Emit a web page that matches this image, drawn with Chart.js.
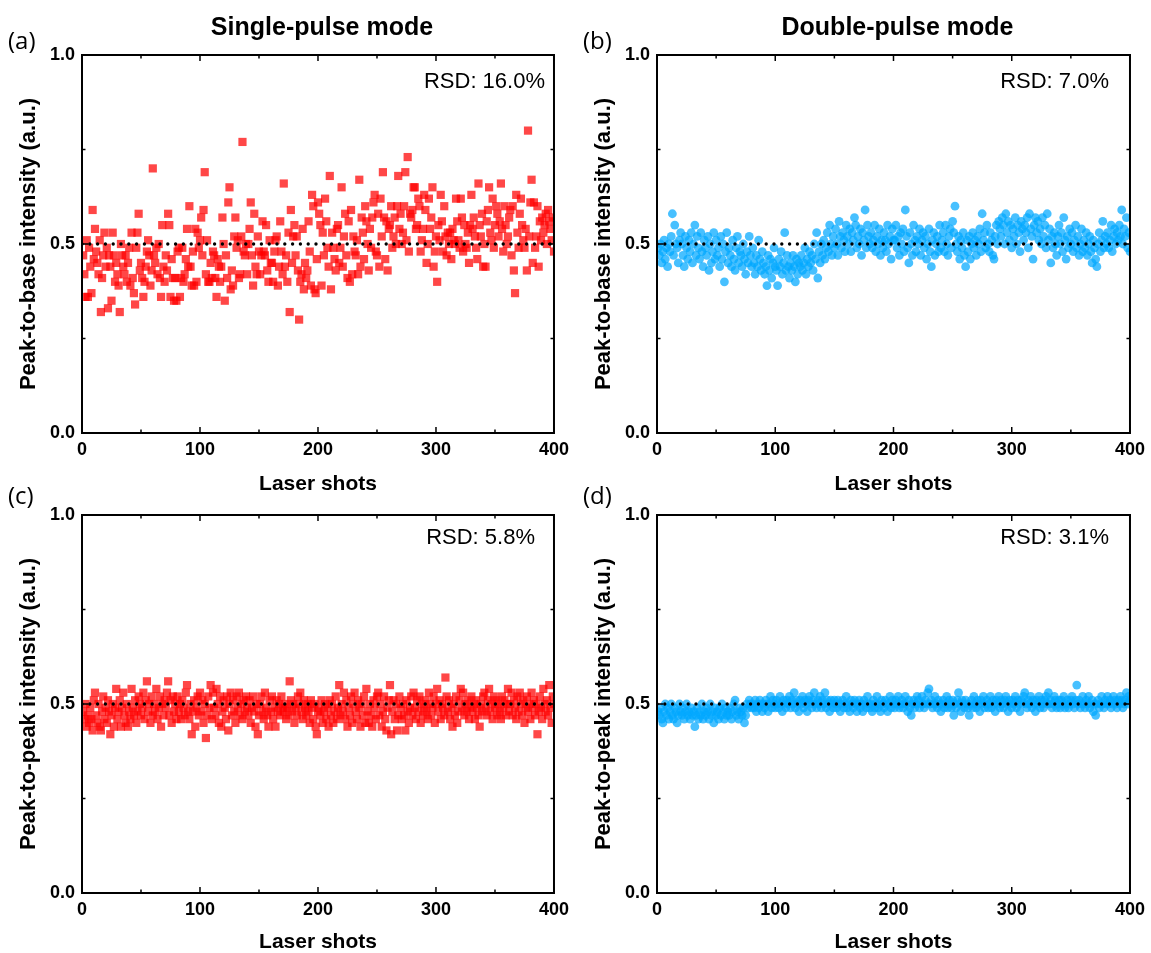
<!DOCTYPE html>
<html>
<head>
<meta charset="utf-8">
<script src="https://cdn.jsdelivr.net/npm/chart.js@4.4.1/dist/chart.umd.min.js"></script>
<style>
  html, body { margin: 0; padding: 0; background: #fff; overflow: hidden; }
  canvas { position: absolute; }
</style>
</head>
<body>
<canvas id="chartA"></canvas>
<canvas id="chartB"></canvas>
<canvas id="chartC"></canvas>
<canvas id="chartD"></canvas>
<script>
// peak-to-base, single pulse (a)
const singleBase = [
  0.47,0.42,0.36,0.51,0.36,0.49,0.44,0.37,0.59,0.46, 0.54,0.48,0.45,0.42,0.51,0.32,0.41,0.47,0.53,0.44,
  0.49,0.33,0.47,0.44,0.35,0.53,0.47,0.40,0.45,0.42, 0.39,0.32,0.50,0.47,0.44,0.42,0.47,0.40,0.45,0.49,
  0.39,0.53,0.41,0.37,0.34,0.49,0.53,0.58,0.43,0.45, 0.41,0.36,0.40,0.44,0.48,0.51,0.47,0.39,0.43,0.70,
  0.47,0.45,0.49,0.42,0.50,0.41,0.36,0.55,0.44,0.40, 0.47,0.43,0.58,0.55,0.36,0.46,0.41,0.35,0.41,0.35,
  0.48,0.49,0.36,0.41,0.49,0.40,0.42,0.46,0.54,0.44, 0.60,0.44,0.39,0.48,0.39,0.54,0.40,0.53,0.49,0.51,
  0.57,0.47,0.59,0.69,0.42,0.51,0.40,0.40,0.45,0.41, 0.48,0.47,0.41,0.36,0.46,0.44,0.40,0.44,0.57,0.50,
  0.35,0.47,0.41,0.61,0.65,0.38,0.43,0.39,0.52,0.57, 0.49,0.51,0.41,0.42,0.52,0.77,0.48,0.47,0.50,0.42,
  0.50,0.54,0.61,0.47,0.39,0.58,0.44,0.42,0.52,0.48, 0.42,0.47,0.56,0.48,0.47,0.55,0.43,0.40,0.51,0.45,
  0.45,0.40,0.48,0.51,0.52,0.39,0.44,0.56,0.48,0.42, 0.66,0.44,0.47,0.40,0.53,0.32,0.59,0.45,0.52,0.55,
  0.47,0.52,0.43,0.30,0.40,0.42,0.54,0.38,0.45,0.41, 0.43,0.56,0.48,0.39,0.63,0.60,0.38,0.37,0.46,0.61,
  0.58,0.55,0.39,0.53,0.47,0.62,0.56,0.49,0.44,0.68, 0.38,0.53,0.49,0.46,0.43,0.54,0.55,0.45,0.49,0.65,
  0.44,0.52,0.58,0.47,0.41,0.56,0.40,0.59,0.42,0.52, 0.48,0.47,0.51,0.42,0.67,0.44,0.57,0.53,0.46,0.60,
  0.56,0.50,0.43,0.54,0.49,0.57,0.61,0.63,0.48,0.47, 0.58,0.44,0.62,0.52,0.69,0.57,0.46,0.56,0.43,0.54,
  0.55,0.60,0.49,0.52,0.57,0.50,0.60,0.68,0.54,0.58, 0.50,0.53,0.60,0.69,0.51,0.73,0.48,0.58,0.57,0.59,
  0.65,0.65,0.54,0.55,0.62,0.60,0.48,0.51,0.54,0.63, 0.59,0.45,0.50,0.62,0.54,0.57,0.65,0.44,0.48,0.52,
  0.40,0.55,0.51,0.63,0.56,0.48,0.60,0.52,0.47,0.53, 0.50,0.53,0.46,0.54,0.51,0.50,0.62,0.56,0.51,0.49,
  0.62,0.57,0.48,0.55,0.50,0.49,0.53,0.45,0.55,0.63, 0.54,0.57,0.52,0.49,0.46,0.66,0.55,0.52,0.58,0.44,
  0.50,0.44,0.56,0.59,0.65,0.53,0.51,0.62,0.49,0.55, 0.60,0.58,0.52,0.56,0.66,0.54,0.48,0.60,0.55,0.50,
  0.52,0.57,0.59,0.47,0.60,0.43,0.37,0.63,0.53,0.49, 0.58,0.62,0.55,0.51,0.49,0.54,0.43,0.80,0.52,0.61,
  0.67,0.45,0.61,0.49,0.52,0.60,0.44,0.56,0.51,0.57, 0.53,0.55,0.58,0.50,0.59,0.56,0.54,0.51,0.57,0.48
];

// peak-to-base, double pulse (b)
const doubleBase = [
  0.49,0.47,0.50,0.45,0.48,0.51,0.46,0.49,0.44,0.50, 0.48,0.52,0.58,0.47,0.55,0.50,0.49,0.45,0.51,0.53,
  0.50,0.47,0.44,0.52,0.49,0.46,0.51,0.48,0.53,0.45, 0.50,0.55,0.47,0.52,0.49,0.46,0.53,0.48,0.44,0.51,
  0.49,0.47,0.52,0.43,0.50,0.45,0.48,0.53,0.46,0.51, 0.47,0.49,0.44,0.52,0.46,0.50,0.40,0.48,0.53,0.45,
  0.49,0.47,0.44,0.51,0.46,0.43,0.49,0.52,0.45,0.48, 0.47,0.44,0.50,0.46,0.42,0.48,0.45,0.52,0.47,0.44,
  0.49,0.45,0.42,0.47,0.44,0.51,0.46,0.43,0.48,0.45, 0.42,0.44,0.39,0.47,0.43,0.46,0.41,0.45,0.49,0.44,
  0.43,0.39,0.46,0.44,0.48,0.42,0.45,0.53,0.43,0.47, 0.44,0.41,0.45,0.43,0.47,0.44,0.40,0.46,0.42,0.45,
  0.44,0.47,0.43,0.45,0.49,0.42,0.46,0.44,0.48,0.45, 0.47,0.43,0.50,0.46,0.53,0.41,0.48,0.45,0.50,0.47,
  0.51,0.46,0.49,0.53,0.48,0.55,0.50,0.47,0.52,0.49, 0.54,0.50,0.47,0.56,0.52,0.49,0.53,0.51,0.48,0.55,
  0.52,0.50,0.54,0.48,0.53,0.51,0.57,0.55,0.49,0.52, 0.50,0.54,0.47,0.53,0.51,0.59,0.49,0.55,0.52,0.50,
  0.53,0.49,0.51,0.55,0.48,0.52,0.50,0.54,0.47,0.51, 0.49,0.53,0.51,0.48,0.55,0.50,0.52,0.46,0.54,0.51,
  0.51,0.55,0.49,0.52,0.47,0.53,0.50,0.54,0.48,0.59, 0.52,0.49,0.45,0.53,0.50,0.47,0.55,0.51,0.48,0.52,
  0.50,0.54,0.47,0.51,0.53,0.49,0.52,0.46,0.50,0.54, 0.48,0.44,0.51,0.53,0.47,0.50,0.52,0.48,0.55,0.49,
  0.51,0.53,0.48,0.55,0.50,0.47,0.52,0.54,0.49,0.56, 0.53,0.60,0.50,0.48,0.52,0.46,0.51,0.49,0.53,0.47,
  0.44,0.51,0.48,0.52,0.46,0.50,0.53,0.49,0.51,0.47, 0.52,0.50,0.54,0.48,0.58,0.51,0.53,0.49,0.55,0.50,
  0.48,0.53,0.51,0.47,0.46,0.52,0.55,0.50,0.56,0.54, 0.52,0.57,0.55,0.50,0.58,0.53,0.56,0.51,0.55,0.49,
  0.54,0.52,0.57,0.50,0.55,0.53,0.48,0.56,0.54,0.51, 0.55,0.53,0.57,0.49,0.58,0.54,0.52,0.46,0.55,0.57,
  0.53,0.56,0.51,0.54,0.50,0.57,0.52,0.55,0.49,0.58, 0.51,0.54,0.45,0.52,0.49,0.53,0.50,0.47,0.52,0.55,
  0.50,0.53,0.48,0.57,0.51,0.46,0.52,0.49,0.54,0.50, 0.53,0.48,0.51,0.55,0.49,0.52,0.47,0.50,0.54,0.48,
  0.51,0.49,0.53,0.47,0.50,0.52,0.48,0.45,0.51,0.49, 0.46,0.44,0.50,0.53,0.48,0.51,0.56,0.49,0.52,0.50,
  0.53,0.49,0.51,0.55,0.48,0.52,0.54,0.50,0.53,0.51, 0.55,0.52,0.59,0.50,0.54,0.52,0.57,0.49,0.53,0.48
];

// peak-to-peak, single pulse (c)
const singlePeak = [
  0.48,0.46,0.50,0.44,0.47,0.45,0.49,0.46,0.43,0.51, 0.53,0.47,0.45,0.50,0.44,0.43,0.48,0.52,0.46,0.49,
  0.45,0.51,0.48,0.42,0.47,0.50,0.44,0.49,0.54,0.46, 0.48,0.51,0.44,0.49,0.53,0.47,0.45,0.50,0.44,0.48,
  0.46,0.54,0.49,0.47,0.51,0.45,0.48,0.52,0.50,0.47, 0.49,0.53,0.46,0.51,0.56,0.48,0.50,0.45,0.52,0.47,
  0.50,0.48,0.54,0.46,0.49,0.52,0.44,0.50,0.47,0.51, 0.49,0.53,0.56,0.47,0.51,0.45,0.52,0.48,0.50,0.46,
  0.52,0.48,0.50,0.46,0.51,0.49,0.47,0.53,0.55,0.48, 0.46,0.50,0.42,0.48,0.51,0.44,0.49,0.52,0.47,0.53,
  0.48,0.51,0.45,0.50,0.41,0.47,0.52,0.49,0.55,0.46, 0.53,0.49,0.47,0.54,0.50,0.45,0.52,0.44,0.48,0.51,
  0.49,0.46,0.52,0.43,0.50,0.53,0.47,0.51,0.48,0.45, 0.52,0.49,0.53,0.47,0.50,0.46,0.51,0.48,0.52,0.49,
  0.47,0.51,0.45,0.49,0.52,0.48,0.44,0.50,0.42,0.47, 0.50,0.52,0.48,0.46,0.53,0.49,0.47,0.44,0.51,0.48,
  0.52,0.46,0.49,0.44,0.51,0.48,0.50,0.47,0.52,0.49, 0.48,0.50,0.46,0.49,0.47,0.56,0.51,0.48,0.50,0.45,
  0.49,0.47,0.52,0.50,0.53,0.48,0.46,0.51,0.49,0.47, 0.50,0.48,0.45,0.51,0.49,0.46,0.50,0.44,0.42,0.48,
  0.49,0.47,0.51,0.45,0.48,0.50,0.46,0.49,0.44,0.51, 0.47,0.50,0.45,0.48,0.52,0.46,0.49,0.55,0.47,0.50,
  0.48,0.53,0.46,0.51,0.44,0.49,0.47,0.52,0.45,0.50, 0.53,0.48,0.46,0.51,0.49,0.44,0.50,0.47,0.52,0.45,
  0.54,0.48,0.45,0.50,0.47,0.44,0.51,0.49,0.46,0.52, 0.53,0.47,0.50,0.44,0.48,0.52,0.46,0.43,0.49,0.51,
  0.55,0.42,0.48,0.51,0.46,0.50,0.43,0.47,0.52,0.49, 0.46,0.50,0.47,0.43,0.51,0.48,0.45,0.49,0.52,0.47,
  0.53,0.49,0.46,0.51,0.48,0.52,0.45,0.50,0.47,0.49, 0.51,0.48,0.46,0.53,0.50,0.47,0.49,0.52,0.45,0.50,
  0.54,0.48,0.51,0.46,0.50,0.49,0.47,0.57,0.52,0.48, 0.51,0.46,0.49,0.44,0.50,0.47,0.52,0.45,0.48,0.51,
  0.54,0.49,0.53,0.47,0.50,0.48,0.51,0.46,0.49,0.52, 0.48,0.50,0.46,0.51,0.49,0.47,0.44,0.50,0.48,0.52,
  0.53,0.49,0.47,0.51,0.54,0.48,0.50,0.46,0.52,0.49, 0.51,0.47,0.50,0.48,0.46,0.52,0.49,0.51,0.47,0.50,
  0.54,0.48,0.50,0.53,0.47,0.51,0.49,0.46,0.52,0.48, 0.53,0.50,0.47,0.51,0.45,0.49,0.52,0.48,0.50,0.46,
  0.53,0.49,0.51,0.47,0.50,0.42,0.48,0.52,0.49,0.46, 0.54,0.50,0.48,0.51,0.47,0.55,0.49,0.45,0.52,0.50
];

// peak-to-peak, double pulse (d)
const doublePeak = [
  0.48,0.47,0.49,0.46,0.45,0.48,0.50,0.47,0.49,0.46, 0.48,0.50,0.47,0.46,0.49,0.48,0.45,0.47,0.50,0.48,
  0.47,0.49,0.46,0.48,0.50,0.47,0.48,0.46,0.49,0.47, 0.48,0.44,0.47,0.49,0.46,0.48,0.47,0.50,0.46,0.48,
  0.47,0.49,0.48,0.46,0.50,0.47,0.48,0.45,0.49,0.47, 0.48,0.46,0.49,0.47,0.50,0.48,0.46,0.49,0.47,0.48,
  0.47,0.49,0.46,0.48,0.50,0.51,0.47,0.48,0.46,0.49, 0.48,0.47,0.49,0.45,0.47,0.50,0.49,0.51,0.50,0.49,
  0.50,0.49,0.51,0.48,0.50,0.49,0.51,0.50,0.48,0.50, 0.49,0.51,0.50,0.48,0.50,0.52,0.49,0.51,0.50,0.49,
  0.51,0.50,0.49,0.52,0.50,0.48,0.51,0.50,0.49,0.51, 0.50,0.52,0.49,0.51,0.50,0.53,0.49,0.51,0.50,0.48,
  0.51,0.50,0.52,0.49,0.51,0.50,0.48,0.51,0.52,0.50, 0.49,0.51,0.53,0.50,0.49,0.51,0.50,0.52,0.49,0.51,
  0.50,0.53,0.49,0.51,0.50,0.48,0.51,0.50,0.49,0.51, 0.50,0.49,0.51,0.50,0.48,0.50,0.51,0.49,0.50,0.52,
  0.49,0.50,0.48,0.51,0.50,0.49,0.51,0.50,0.48,0.50, 0.51,0.49,0.50,0.48,0.51,0.50,0.49,0.52,0.50,0.49,
  0.50,0.48,0.51,0.49,0.50,0.52,0.49,0.50,0.48,0.51, 0.50,0.49,0.51,0.50,0.48,0.50,0.52,0.49,0.51,0.50,
  0.49,0.51,0.50,0.52,0.49,0.50,0.51,0.49,0.50,0.52, 0.50,0.48,0.51,0.49,0.47,0.50,0.51,0.49,0.50,0.52,
  0.51,0.49,0.50,0.52,0.50,0.49,0.51,0.50,0.53,0.54, 0.50,0.51,0.49,0.50,0.52,0.50,0.49,0.51,0.50,0.48,
  0.50,0.51,0.49,0.50,0.52,0.49,0.51,0.50,0.49,0.51, 0.47,0.50,0.49,0.51,0.53,0.50,0.48,0.51,0.50,0.49,
  0.51,0.50,0.49,0.47,0.50,0.51,0.49,0.52,0.50,0.49, 0.51,0.50,0.48,0.51,0.50,0.52,0.49,0.50,0.51,0.49,
  0.50,0.52,0.49,0.51,0.50,0.48,0.51,0.50,0.52,0.49, 0.51,0.50,0.49,0.51,0.52,0.50,0.48,0.51,0.50,0.49,
  0.51,0.50,0.52,0.49,0.51,0.50,0.48,0.51,0.50,0.52, 0.53,0.50,0.49,0.51,0.50,0.52,0.49,0.51,0.50,0.48,
  0.51,0.50,0.52,0.49,0.51,0.50,0.49,0.51,0.52,0.50, 0.53,0.50,0.51,0.49,0.50,0.52,0.51,0.49,0.50,0.51,
  0.49,0.51,0.50,0.52,0.49,0.50,0.51,0.49,0.50,0.51, 0.52,0.50,0.49,0.51,0.55,0.50,0.51,0.49,0.50,0.52,
  0.50,0.49,0.51,0.50,0.52,0.49,0.50,0.51,0.48,0.50, 0.47,0.50,0.51,0.49,0.50,0.52,0.50,0.49,0.51,0.50,
  0.52,0.50,0.51,0.49,0.50,0.52,0.51,0.50,0.49,0.51, 0.50,0.52,0.51,0.49,0.50,0.51,0.53,0.50,0.52,0.51
];

const rsdLabels = ["RSD: 16.0%", "RSD: 7.0%", "RSD: 5.8%", "RSD: 3.1%"];
const modeTitles = ["Single-pulse mode", "Double-pulse mode"];
const yTitles = ["Peak-to-base intensity (a.u.)", "Peak-to-peak intensity (a.u.)"];
const panelLabels = ["(a)", "(b)", "(c)", "(d)"];
const xTitle = "Laser shots";
const refLevel = 0.5;

const FONT = "'Liberation Sans', Arial, Helvetica, sans-serif";
Chart.defaults.font.family = FONT;
Chart.defaults.color = "#000";

const RED = "rgba(255,0,0,0.72)";
const BLUE = "rgba(0,168,255,0.72)";

// draws box, inward ticks and the text inside/around the panel
const framePlugin = {
  id: "frame",
  afterDraw(chart, args, o) {
    const { ctx, chartArea: a } = chart;
    const x = chart.scales.x, y = chart.scales.y;
    ctx.save();
    ctx.strokeStyle = "#000";
    ctx.lineWidth = 1.5;
    const seg = (x1, y1, x2, y2) => { ctx.beginPath(); ctx.moveTo(x1, y1); ctx.lineTo(x2, y2); ctx.stroke(); };
    for (let v = 0; v <= 400; v += 50) {
      const px = x.getPixelForValue(v);
      const len = v % 100 === 0 ? 6 : 3.5;
      seg(px, a.bottom, px, a.bottom - len);
      seg(px, a.top, px, a.top + len);
    }
    for (let v = 0; v <= 1.0001; v += 0.25) {
      const py = y.getPixelForValue(v);
      const len = Math.abs(v * 2 - Math.round(v * 2)) < 1e-6 ? 6 : 3.5;
      seg(a.left, py, a.left + len, py);
      seg(a.right, py, a.right - len, py);
    }
    ctx.lineWidth = 2;
    ctx.strokeRect(a.left, a.top, a.right - a.left, a.bottom - a.top);

    ctx.fillStyle = "#000";
    ctx.textBaseline = "middle";
    ctx.textAlign = "right";
    ctx.font = "22px " + FONT;
    ctx.fillText(o.rsd, a.right - o.rsdRight, a.top + o.rsdDown);

    if (o.title) {
      ctx.textAlign = "center";
      ctx.font = "bold 25px " + FONT;
      ctx.fillText(o.title, (a.left + a.right) / 2 + 4, a.top - 27);
    }
    ctx.textAlign = "left";
    ctx.font = "24px 'Open Sans', 'Noto Sans', sans-serif";
    ctx.fillText(o.label, 8, a.top - o.labelUp);
    ctx.restore();
  }
};

const panels = [
  { id: "chartA", left: 0,   top: 0,   w: 575, h: 500, vals: singleBase, color: RED,  style: "rect",   radius: 5.8, rsd: rsdLabels[0], rsdRight: 9,  rsdDown: 27, title: modeTitles[0], yTitle: yTitles[0], label: panelLabels[0], labelUp: 13, padRight: 19, xAxisH: 67, xTitlePad: 5 },
  { id: "chartB", left: 575, top: 0,   w: 576, h: 500, vals: doubleBase, color: BLUE, style: "circle", radius: 4.4, rsd: rsdLabels[1], rsdRight: 21, rsdDown: 27, title: modeTitles[1], yTitle: yTitles[0], label: panelLabels[1], labelUp: 13, padRight: 20, xAxisH: 67, xTitlePad: 5 },
  { id: "chartC", left: 0,   top: 460, w: 575, h: 493, vals: singlePeak, color: RED,  style: "rect",   radius: 5.8, rsd: rsdLabels[2], rsdRight: 19, rsdDown: 23, title: null,          yTitle: yTitles[1], label: panelLabels[2], labelUp: 18, padRight: 19, xAxisH: 60, xTitlePad: 0 },
  { id: "chartD", left: 575, top: 460, w: 576, h: 493, vals: doublePeak, color: BLUE, style: "circle", radius: 4.4, rsd: rsdLabels[3], rsdRight: 21, rsdDown: 23, title: null,          yTitle: yTitles[1], label: panelLabels[3], labelUp: 18, padRight: 20, xAxisH: 60, xTitlePad: 0 }
];

panels.forEach(p => {
  const cv = document.getElementById(p.id);
  cv.width = p.w; cv.height = p.h;
  cv.style.left = p.left + "px"; cv.style.top = p.top + "px";
  cv.style.width = p.w + "px"; cv.style.height = p.h + "px";

  new Chart(cv.getContext("2d"), {
    type: "scatter",
    data: {
      datasets: [
        {
          data: [{ x: 0, y: refLevel }, { x: 400, y: refLevel }],
          showLine: true,
          borderColor: "#000",
          borderWidth: 3.4,
          borderDash: [0, 7.8],
          borderCapStyle: "round",
          pointRadius: 0
        },
        {
          data: p.vals.map((v, i) => ({ x: i + 1, y: v })),
          pointStyle: p.style,
          pointRadius: p.radius,
          pointBackgroundColor: p.color,
          pointBorderWidth: 0,
          pointBorderColor: "rgba(0,0,0,0)"
        }
      ]
    },
    options: {
      responsive: false,
      animation: false,
      events: [],
      layout: { padding: { top: 55, right: p.padRight, left: 0, bottom: 0 } },
      plugins: {
        legend: { display: false },
        tooltip: { enabled: false },
        frame: { rsd: p.rsd, rsdRight: p.rsdRight, rsdDown: p.rsdDown, title: p.title, label: p.label, labelUp: p.labelUp }
      },
      scales: {
        x: {
          type: "linear", min: 0, max: 400,
          grid: { display: false, drawTicks: false },
          border: { display: false },
          ticks: { stepSize: 100, autoSkip: false, maxRotation: 0, padding: 6, color: "#000",
                   font: { size: 18, weight: "bold" } },
          title: { display: true, text: xTitle, color: "#000",
                   font: { size: 21, weight: "bold", lineHeight: 1 },
                   padding: { top: 0, bottom: p.xTitlePad } },
          afterFit(s) { s.height = p.xAxisH; }
        },
        y: {
          type: "linear", min: 0, max: 1,
          grid: { display: false, drawTicks: false },
          border: { display: false },
          ticks: { stepSize: 0.5, padding: 7, color: "#000",
                   font: { size: 18, weight: "bold" },
                   callback: v => Number(v).toFixed(1) },
          title: { display: true, text: p.yTitle, color: "#000",
                   font: { size: 22, weight: "bold", lineHeight: 1 },
                   padding: { top: 18, bottom: 0 } },
          afterFit(s) { s.width = 82; }
        }
      }
    },
    plugins: [framePlugin]
  });
});
</script>
</body>
</html>
